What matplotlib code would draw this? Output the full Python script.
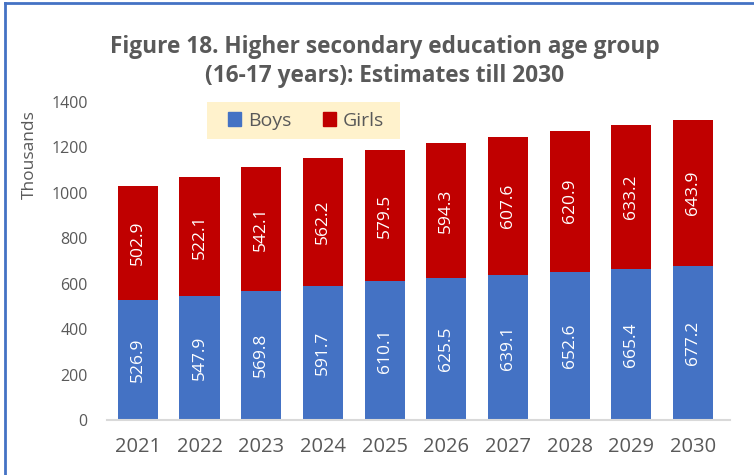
import numpy as np
import matplotlib
matplotlib.use("Agg")
import matplotlib.pyplot as plt
from matplotlib.lines import Line2D
from matplotlib.patches import Patch, Rectangle

plt.rcParams['font.family'] = ['Open Sans', 'DejaVu Sans']

years = ["2021", "2022", "2023", "2024", "2025", "2026", "2027", "2028", "2029", "2030"]
boys = [526.9, 547.9, 569.8, 591.7, 610.1, 625.5, 639.1, 652.6, 665.4, 677.2]
girls = [502.9, 522.1, 542.1, 562.2, 579.5, 594.3, 607.6, 620.9, 633.2, 643.9]

blue = "#4472C4"
red = "#C00000"
grey = "#595959"

fig = plt.figure(figsize=(7.54, 4.75), dpi=100)
ax = fig.add_axes([107/754, 1 - 420/475, (730-107)/754, (420-102)/475])

x = np.arange(len(years))
w = 0.65
ax.bar(x, boys, w, color=blue, label="Boys")
ax.bar(x, girls, w, bottom=boys, color=red, label="Girls")

# data labels in the middle of each piece
for i in range(len(years)):
    ax.text(x[i], boys[i] / 2, f"{boys[i]:.1f}", rotation=90, ha="center", va="center",
            color="white", fontsize=12.5)
    ax.text(x[i], boys[i] + girls[i] / 2, f"{girls[i]:.1f}", rotation=90, ha="center",
            va="center", color="white", fontsize=12.5)

ax.set_ylim(0, 1400)
ax.set_yticks(range(0, 1401, 200))
ax.set_xlim(-0.5, 9.6)
ax.set_xticks(x)
ax.set_xticklabels(years, fontsize=14.5, color=grey)
ax.tick_params(axis="y", labelsize=11.5, colors=grey, length=0, pad=14)
ax.tick_params(axis="x", length=0, pad=12)
for s in ["top", "right", "left"]:
    ax.spines[s].set_visible(False)
ax.spines["bottom"].set_color("#D9D9D9")
ax.spines["bottom"].set_linewidth(1.5)

fig.text(30/754, 1 - 155/475, "Thousands", rotation=90, ha="center", va="center",
         fontsize=12.5, color=grey)

fig.text(385/754, 1 - 47/475, "Figure 18. Higher secondary education age group",
         ha="center", va="center", fontsize=16.3, fontweight="bold", color=grey)
fig.text(385/754, 1 - 76/475, "(16-17 years): Estimates till 2030",
         ha="center", va="center", fontsize=16.3, fontweight="bold", color=grey)

# legend background box
fig.add_artist(Rectangle((207/754, 1 - 139/475), (400-207)/754, 37/475,
                         transform=fig.transFigure, facecolor="#FFF2CC", edgecolor="none"))
handles = [Patch(color=blue, label="Boys"), Patch(color=red, label="Girls")]
leg = fig.legend(handles=handles, loc="center", bbox_to_anchor=(306/754, 1 - 121/475),
                 ncol=2, frameon=False, fontsize=14, handlelength=0.7, handleheight=0.7,
                 handletextpad=0.35, columnspacing=1.6, labelcolor=grey)

# outer border (left and top visible)
fig.add_artist(Line2D([5/754, 5/754], [0, 1 - 3/475], color=blue, lw=2))
fig.add_artist(Line2D([5/754, 1], [1 - 3/475, 1 - 3/475], color=blue, lw=2))

fig.savefig("out.png", dpi=100)
